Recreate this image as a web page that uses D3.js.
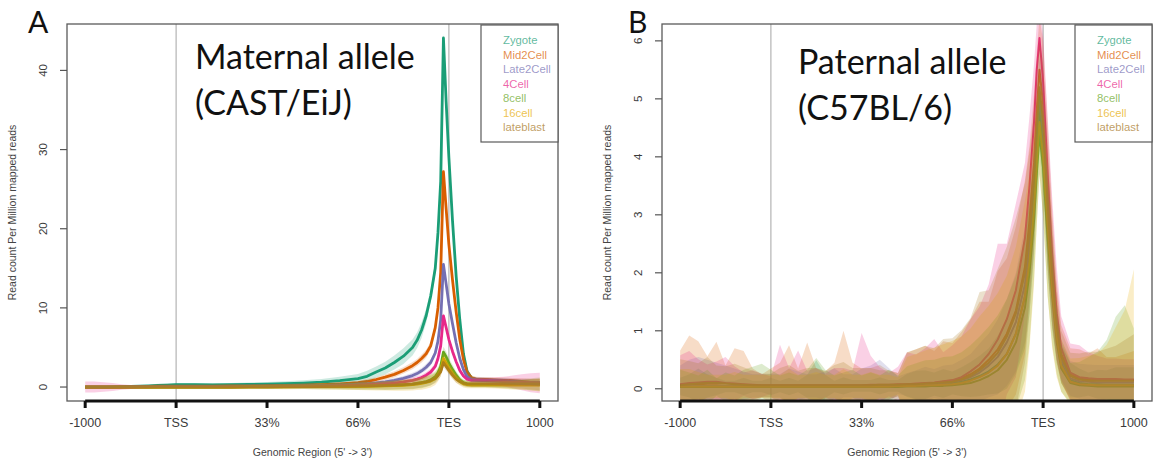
<!DOCTYPE html>
<html>
<head>
<meta charset="utf-8">
<script src="https://cdn.jsdelivr.net/npm/d3@7"></script>
<style>
  html, body { margin: 0; padding: 0; background: #fff; }
  svg { display: block; }
</style>
</head>
<body>
<svg id="chart" width="1154" height="462"></svg>
<script>
// ---- shared labels ----
const stages = ["Zygote", "Mid2Cell", "Late2Cell", "4Cell", "8cell", "16cell", "lateblast"];
const stageColors = ["#1b9e77", "#d95f02", "#7570b3", "#e7298a", "#66a61e", "#e6ab02", "#a6761d"];
const regionTickPos = [0, 1, 2, 3, 4, 5];
const regionTickLabels = ["-1000", "TSS", "33%", "66%", "TES", "1000"];
const yTicksA = [0, 10, 20, 30, 40];
const yTicksB = [0, 1, 2, 3, 4, 5, 6];

// ---- panel A: maternal allele (region units: 0=-1000, 1=TSS, 4=TES, 5=+1000) ----
const posA = [0, 0.1, 0.2, 0.3, 0.4, 0.5, 0.6, 0.7, 0.8, 0.9, 1.0,
  1.2, 1.4, 1.6, 1.8, 2.0, 2.2, 2.4, 2.6, 2.8, 3.0,
  3.1, 3.2, 3.3, 3.4, 3.5, 3.6,
  3.65, 3.7, 3.75, 3.8, 3.85,
  3.88, 3.91, 3.94, 3.97, 4.0,
  4.04, 4.08, 4.12, 4.16, 4.2,
  4.25, 4.3,
  4.4, 4.5, 4.6, 4.7, 4.8, 4.9, 5.0];

const aZygote = [0, 0, 0, 0.02, 0.05, 0.08, 0.12, 0.15, 0.2, 0.25, 0.3,
  0.3, 0.28, 0.3, 0.32, 0.35, 0.42, 0.5, 0.62, 0.8, 1.05,
  1.35, 1.9, 2.4, 3.1, 3.9, 5.0,
  5.9, 7.2, 9.0, 11.5, 15.0,
  19.5, 26, 44.1, 36, 29,
  21, 14, 8.5, 4.2, 2.0,
  1.1, 0.95,
  0.9, 0.85, 0.8, 0.7, 0.6, 0.55, 0.5];
const aZygoteSE = [0.15, 0.15, 0.15, 0.15, 0.15, 0.15, 0.15, 0.15, 0.2, 0.2, 0.2,
  0.2, 0.2, 0.2, 0.25, 0.3, 0.3, 0.35, 0.4, 0.5, 0.6,
  0.7, 0.7, 0.8, 0.9, 1.0, 1.0,
  1.0, 1.0, 0.9, 0.8, 0.8,
  0.7, 0.7, 0.6, 0.6, 0.5,
  0.5, 0.4, 0.4, 0.3, 0.3,
  0.3, 0.3,
  0.3, 0.3, 0.3, 0.3, 0.3, 0.3, 0.3];

const aMid2Cell = [0, 0, 0, 0, 0.02, 0.04, 0.06, 0.08, 0.1, 0.1, 0.12,
  0.12, 0.12, 0.13, 0.15, 0.18, 0.2, 0.25, 0.3, 0.4, 0.55,
  0.7, 0.95, 1.25, 1.6, 2.1, 2.7,
  3.1, 3.6, 4.2, 5.2, 7.5,
  10, 14.5, 27.2, 22.5, 18,
  13.5, 9.5, 6, 3.5, 1.9,
  1.15, 1.0,
  0.95, 0.9, 0.85, 0.8, 0.7, 0.6, 0.55];
const aMid2CellSE = [0.1, 0.1, 0.1, 0.1, 0.1, 0.1, 0.1, 0.1, 0.1, 0.1, 0.1,
  0.1, 0.1, 0.1, 0.12, 0.12, 0.15, 0.15, 0.2, 0.2, 0.25,
  0.3, 0.3, 0.35, 0.4, 0.4, 0.45,
  0.45, 0.5, 0.5, 0.5, 0.5,
  0.5, 0.5, 0.5, 0.5, 0.5,
  0.4, 0.4, 0.3, 0.3, 0.3,
  0.3, 0.3,
  0.3, 0.3, 0.35, 0.35, 0.4, 0.4, 0.45];

const aLate2Cell = [0, 0, 0, 0, 0, 0.02, 0.04, 0.05, 0.06, 0.07, 0.08,
  0.08, 0.08, 0.09, 0.1, 0.12, 0.14, 0.16, 0.2, 0.26, 0.35,
  0.42, 0.52, 0.65, 0.85, 1.1, 1.45,
  1.7, 2.05, 2.5, 3.1, 4.3,
  5.8, 8.5, 15.5, 13, 10.5,
  8, 5.6, 3.6, 2.2, 1.3,
  0.95, 0.9,
  0.85, 0.8, 0.75, 0.7, 0.65, 0.6, 0.55];
const aLate2CellSE = [0.1, 0.1, 0.1, 0.1, 0.1, 0.1, 0.1, 0.1, 0.1, 0.1, 0.1,
  0.1, 0.1, 0.1, 0.1, 0.1, 0.12, 0.12, 0.15, 0.15, 0.2,
  0.2, 0.25, 0.25, 0.3, 0.3, 0.35,
  0.35, 0.35, 0.4, 0.4, 0.4,
  0.4, 0.4, 0.4, 0.4, 0.4,
  0.35, 0.3, 0.3, 0.3, 0.3,
  0.3, 0.3,
  0.3, 0.3, 0.35, 0.35, 0.4, 0.4, 0.45];

const a4Cell = [0, 0, 0, 0, 0, 0, 0.02, 0.03, 0.04, 0.05, 0.05,
  0.05, 0.05, 0.06, 0.07, 0.08, 0.09, 0.1, 0.12, 0.16, 0.22,
  0.26, 0.32, 0.4, 0.5, 0.65, 0.85,
  1.0, 1.2, 1.5, 1.9, 2.6,
  3.6, 5.2, 9.0, 7.5, 6.0,
  4.5, 3.2, 2.1, 1.4, 1.0,
  0.85, 0.85,
  0.8, 0.75, 0.7, 0.65, 0.6, 0.55, 0.5];
const a4CellSE = [0.7, 0.7, 0.6, 0.5, 0.35, 0.25, 0.2, 0.15, 0.15, 0.15, 0.15,
  0.15, 0.15, 0.15, 0.15, 0.15, 0.15, 0.15, 0.2, 0.2, 0.2,
  0.25, 0.25, 0.3, 0.3, 0.3, 0.35,
  0.35, 0.35, 0.4, 0.4, 0.4,
  0.4, 0.4, 0.4, 0.4, 0.4,
  0.35, 0.3, 0.3, 0.3, 0.3,
  0.3, 0.35,
  0.4, 0.5, 0.6, 0.8, 1.0, 1.2, 1.3];

const a8cell = [0, 0, 0, 0, 0, 0, 0, 0, 0, 0, 0,
  0, 0, 0, 0.02, 0.03, 0.04, 0.05, 0.06, 0.08, 0.1,
  0.12, 0.15, 0.18, 0.22, 0.28, 0.36,
  0.45, 0.55, 0.7, 0.9, 1.3,
  1.8, 2.6, 4.4, 3.8, 3.0,
  2.2, 1.5, 0.9, 0.55, 0.4,
  0.35, 0.35,
  0.35, 0.35, 0.35, 0.3, 0.3, 0.3, 0.3];
const a8cellSE = [0.2, 0.2, 0.2, 0.2, 0.2, 0.2, 0.2, 0.2, 0.2, 0.2, 0.2,
  0.2, 0.2, 0.2, 0.25, 0.25, 0.3, 0.3, 0.35, 0.4, 0.45,
  0.5, 0.5, 0.55, 0.6, 0.6, 0.65,
  0.65, 0.7, 0.7, 0.7, 0.7,
  0.7, 0.7, 0.7, 0.7, 0.65,
  0.6, 0.5, 0.45, 0.4, 0.4,
  0.4, 0.4,
  0.4, 0.45, 0.5, 0.55, 0.6, 0.7, 0.8];

const a16cell = [0, 0, 0, 0, 0, 0, 0, 0, 0, 0, 0,
  0, 0, 0, 0.01, 0.02, 0.03, 0.04, 0.05, 0.06, 0.08,
  0.1, 0.12, 0.15, 0.18, 0.22, 0.3,
  0.38, 0.46, 0.58, 0.75, 1.05,
  1.5, 2.1, 3.6, 3.0, 2.4,
  1.7, 1.1, 0.7, 0.4, 0.3,
  0.25, 0.25,
  0.25, 0.25, 0.25, 0.25, 0.25, 0.25, 0.25];
const a16cellSE = [0.2, 0.2, 0.2, 0.2, 0.2, 0.2, 0.2, 0.2, 0.2, 0.2, 0.2,
  0.2, 0.2, 0.2, 0.25, 0.25, 0.3, 0.3, 0.35, 0.4, 0.45,
  0.5, 0.55, 0.6, 0.65, 0.7, 0.75,
  0.75, 0.8, 0.8, 0.8, 0.8,
  0.8, 0.75, 0.7, 0.7, 0.65,
  0.6, 0.55, 0.5, 0.45, 0.45,
  0.4, 0.4,
  0.4, 0.45, 0.5, 0.55, 0.6, 0.7, 0.8];

const aLateblast = [0, 0, 0, 0, 0, 0, 0, 0, 0, 0, 0,
  0, 0, 0, 0.02, 0.03, 0.04, 0.05, 0.07, 0.09, 0.12,
  0.14, 0.17, 0.2, 0.24, 0.3, 0.38,
  0.45, 0.55, 0.66, 0.82, 1.1,
  1.45, 1.95, 3.1, 2.6, 2.1,
  1.5, 1.0, 0.7, 0.5, 0.4,
  0.4, 0.4,
  0.4, 0.4, 0.4, 0.4, 0.4, 0.4, 0.4];
const aLateblastSE = [0.2, 0.2, 0.2, 0.2, 0.2, 0.2, 0.2, 0.2, 0.2, 0.2, 0.2,
  0.2, 0.2, 0.2, 0.2, 0.25, 0.25, 0.3, 0.3, 0.35, 0.4,
  0.4, 0.45, 0.5, 0.5, 0.55, 0.6,
  0.6, 0.6, 0.6, 0.6, 0.6,
  0.6, 0.6, 0.6, 0.55, 0.5,
  0.5, 0.45, 0.4, 0.4, 0.4,
  0.4, 0.4,
  0.4, 0.45, 0.5, 0.55, 0.6, 0.7, 0.8];

// ---- panel B: paternal allele ----
const posB = [0, 0.1, 0.2, 0.3, 0.4, 0.5, 0.6, 0.7, 0.8, 0.9, 1.0,
  1.1, 1.2, 1.3, 1.4, 1.5, 1.6, 1.7, 1.8, 1.9, 2.0, 2.1, 2.2, 2.3, 2.4, 2.5, 2.6, 2.7, 2.8, 2.9,
  3.0, 3.1, 3.2, 3.3, 3.4, 3.5, 3.6, 3.7, 3.8,
  3.85, 3.9, 3.93, 3.96, 4.0, 4.05, 4.1, 4.15, 4.2,
  4.3, 4.4, 4.5, 4.6, 4.7, 4.8, 4.9, 5.0];

const bZygote = [0.04, 0.05, 0.05, 0.05, 0.04, 0.04, 0.04, 0.04, 0.04, 0.04, 0.04,
  0.04, 0.04, 0.04, 0.04, 0.04, 0.04, 0.04, 0.05, 0.05, 0.05, 0.05, 0.05, 0.05, 0.05, 0.06, 0.06, 0.07, 0.08, 0.09,
  0.1, 0.12, 0.16, 0.22, 0.3, 0.42, 0.6, 0.95, 1.6,
  2.3, 3.2, 4.0, 4.8, 4.2, 2.9, 1.8, 0.95, 0.45,
  0.15, 0.1, 0.08, 0.08, 0.07, 0.07, 0.07, 0.07];
const bZygoteSE = [0.15, 0.2, 0.3, 0.2, 0.15, 0.1, 0.1, 0.15, 0.1, 0.1, 0.15,
  0.1, 0.15, 0.1, 0.2, 0.45, 0.2, 0.1, 0.15, 0.1, 0.1, 0.1, 0.15, 0.1, 0.1, 0.2, 0.25, 0.25, 0.2, 0.25,
  0.2, 0.25, 0.3, 0.35, 0.4, 0.5, 0.6, 0.7, 0.9,
  1.0, 0.9, 0.8, 0.7, 0.8, 0.9, 0.8, 0.5, 0.35,
  0.3, 0.25, 0.2, 0.25, 0.25, 0.3, 0.3, 0.3];

const bMid2Cell = [0.06, 0.07, 0.07, 0.06, 0.06, 0.05, 0.05, 0.05, 0.05, 0.05, 0.05,
  0.05, 0.05, 0.05, 0.05, 0.05, 0.05, 0.05, 0.05, 0.05, 0.05, 0.06, 0.06, 0.06, 0.07, 0.07, 0.08, 0.09, 0.1, 0.12,
  0.14, 0.18, 0.25, 0.35, 0.5, 0.68, 0.95, 1.35, 2.1,
  2.9, 3.9, 4.8, 5.5, 4.9, 3.4, 2.1, 1.15, 0.6,
  0.25, 0.18, 0.16, 0.15, 0.15, 0.15, 0.15, 0.15];
const bMid2CellSE = [0.6, 0.85, 0.75, 0.5, 0.75, 0.35, 0.65, 0.6, 0.3, 0.2, 0.3,
  0.4, 0.7, 0.3, 0.75, 0.3, 0.25, 0.4, 0.95, 0.4, 0.3, 0.3, 0.35, 0.25, 0.2, 0.55, 0.6, 0.65, 0.55, 0.7,
  0.65, 0.8, 0.95, 1.15, 1.0, 1.35, 1.3, 1.45, 1.5,
  1.3, 1.2, 1.0, 0.9, 1.1, 1.2, 1.0, 0.7, 0.5,
  0.45, 0.5, 0.45, 0.55, 0.4, 0.4, 0.45, 0.5];

const bLate2Cell = [0.05, 0.05, 0.05, 0.05, 0.05, 0.05, 0.05, 0.05, 0.05, 0.05, 0.05,
  0.05, 0.05, 0.05, 0.05, 0.05, 0.05, 0.05, 0.05, 0.05, 0.05, 0.05, 0.05, 0.06, 0.06, 0.07, 0.07, 0.08, 0.09, 0.1,
  0.12, 0.15, 0.2, 0.28, 0.4, 0.55, 0.8, 1.15, 1.8,
  2.5, 3.4, 4.3, 5.0, 4.4, 3.0, 1.9, 1.0, 0.5,
  0.18, 0.13, 0.12, 0.11, 0.11, 0.11, 0.11, 0.11];
const bLate2CellSE = [0.35, 0.45, 0.5, 0.45, 0.4, 0.35, 0.3, 0.25, 0.2, 0.2, 0.2,
  0.2, 0.3, 0.25, 0.2, 0.2, 0.25, 0.3, 0.2, 0.2, 0.3, 0.35, 0.45, 0.3, 0.15, 0.2, 0.25, 0.3, 0.25, 0.3,
  0.3, 0.35, 0.4, 0.5, 0.55, 0.65, 0.75, 0.85, 1.0,
  1.0, 0.9, 0.8, 0.7, 0.8, 0.9, 0.8, 0.5, 0.35,
  0.3, 0.3, 0.3, 0.3, 0.3, 0.3, 0.3, 0.3];

const b4Cell = [0.08, 0.1, 0.11, 0.12, 0.12, 0.1, 0.09, 0.08, 0.07, 0.06, 0.06,
  0.06, 0.06, 0.06, 0.06, 0.06, 0.06, 0.06, 0.06, 0.06, 0.06, 0.07, 0.07, 0.07, 0.08, 0.08, 0.09, 0.1, 0.11, 0.13,
  0.15, 0.2, 0.3, 0.42, 0.6, 0.85, 1.2, 1.7, 2.6,
  3.5, 4.6, 5.5, 6.05, 5.3, 3.7, 2.3, 1.3, 0.7,
  0.28, 0.2, 0.18, 0.17, 0.17, 0.17, 0.16, 0.16];
const b4CellSE = [0.5, 0.55, 0.4, 0.3, 0.35, 0.45, 0.3, 0.2, 0.25, 0.2, 0.15,
  0.7, 0.3, 0.6, 0.25, 0.3, 0.2, 0.3, 0.3, 0.25, 0.9, 0.5, 0.3, 0.2, 0.3, 0.55, 0.5, 0.6, 0.75, 0.5,
  0.6, 0.7, 0.9, 1.0, 1.2, 1.65, 1.3, 1.5, 1.3,
  1.2, 1.0, 0.8, 0.6, 0.8, 1.0, 1.0, 0.8, 0.55,
  0.5, 0.55, 0.45, 0.4, 0.35, 0.35, 0.35, 0.35];

const b8cell = [0.03, 0.03, 0.03, 0.03, 0.03, 0.03, 0.03, 0.03, 0.03, 0.03, 0.03,
  0.03, 0.03, 0.03, 0.03, 0.03, 0.03, 0.03, 0.03, 0.03, 0.03, 0.03, 0.03, 0.03, 0.03, 0.04, 0.04, 0.04, 0.05, 0.05,
  0.06, 0.08, 0.1, 0.15, 0.22, 0.32, 0.5, 0.8, 1.4,
  2.0, 2.9, 3.7, 4.4, 3.8, 2.6, 1.6, 0.8, 0.35,
  0.1, 0.06, 0.05, 0.04, 0.04, 0.04, 0.04, 0.04];
const b8cellSE = [0.3, 0.25, 0.2, 0.3, 0.15, 0.25, 0.2, 0.3, 0.35, 0.4, 0.3,
  0.2, 0.25, 0.2, 0.3, 0.5, 0.3, 0.2, 0.25, 0.3, 0.2, 0.25, 0.2, 0.3, 0.2, 0.35, 0.4, 0.45, 0.45, 0.5,
  0.5, 0.55, 0.65, 0.75, 0.85, 0.95, 1.05, 1.15, 1.25,
  1.2, 1.0, 0.85, 0.7, 0.85, 1.0, 0.85, 0.55, 0.4,
  0.35, 0.4, 0.5, 0.6, 0.8, 1.2, 1.4, 1.0];

const b16cell = [0.04, 0.04, 0.04, 0.04, 0.04, 0.04, 0.04, 0.04, 0.04, 0.04, 0.04,
  0.04, 0.04, 0.04, 0.04, 0.04, 0.04, 0.04, 0.04, 0.04, 0.04, 0.04, 0.04, 0.04, 0.05, 0.05, 0.05, 0.06, 0.06, 0.07,
  0.08, 0.1, 0.14, 0.2, 0.28, 0.4, 0.6, 0.95, 1.6,
  2.2, 3.1, 3.9, 4.6, 4.0, 2.8, 1.7, 0.9, 0.4,
  0.12, 0.08, 0.07, 0.06, 0.06, 0.06, 0.06, 0.06];
const b16cellSE = [0.3, 0.3, 0.25, 0.2, 0.2, 0.2, 0.25, 0.2, 0.2, 0.2, 0.2,
  0.2, 0.3, 0.2, 0.2, 0.25, 0.2, 0.2, 0.3, 0.2, 0.2, 0.25, 0.2, 0.2, 0.15, 0.5, 0.55, 0.6, 0.65, 0.7,
  0.75, 0.8, 0.9, 1.05, 1.15, 1.25, 1.35, 1.5, 1.65,
  1.5, 1.3, 1.1, 0.9, 1.0, 1.2, 1.0, 0.7, 0.45,
  0.4, 0.45, 0.5, 0.55, 0.7, 1.0, 1.3, 2.0];

const bLateblast = [0.06, 0.08, 0.09, 0.1, 0.1, 0.09, 0.08, 0.07, 0.06, 0.06, 0.06,
  0.06, 0.06, 0.06, 0.06, 0.06, 0.06, 0.06, 0.06, 0.06, 0.06, 0.06, 0.07, 0.07, 0.07, 0.08, 0.08, 0.09, 0.1, 0.11,
  0.12, 0.16, 0.22, 0.32, 0.45, 0.62, 0.9, 1.3, 2.0,
  2.7, 3.6, 4.5, 5.2, 4.6, 3.2, 2.0, 1.1, 0.55,
  0.22, 0.16, 0.14, 0.14, 0.14, 0.14, 0.14, 0.14];
const bLateblastSE = [0.45, 0.4, 0.35, 0.45, 0.3, 0.3, 0.35, 0.3, 0.25, 0.2, 0.2,
  0.3, 0.35, 0.25, 0.3, 0.3, 0.25, 0.35, 0.4, 0.3, 0.3, 0.3, 0.25, 0.25, 0.2, 0.55, 0.6, 0.65, 0.6, 0.75,
  0.75, 0.85, 1.0, 1.35, 1.25, 1.45, 1.55, 1.65, 1.55,
  1.4, 1.2, 1.0, 0.8, 1.0, 1.1, 0.9, 0.6, 0.45,
  0.4, 0.45, 0.5, 0.5, 0.55, 0.6, 0.7, 0.8];

// ---- assemble series per panel ----
function buildSeries(pos, means, ses) {
  return stages.map((name, i) => ({
    name, color: stageColors[i],
    pts: pos.map((p, k) => ({ x: p, m: means[i][k], se: ses[i][k] }))
  }));
}
const seriesA = buildSeries(posA,
  [aZygote, aMid2Cell, aLate2Cell, a4Cell, a8cell, a16cell, aLateblast],
  [aZygoteSE, aMid2CellSE, aLate2CellSE, a4CellSE, a8cellSE, a16cellSE, aLateblastSE]);
const seriesB = buildSeries(posB,
  [bZygote, bMid2Cell, bLate2Cell, b4Cell, b8cell, b16cell, bLateblast],
  [bZygoteSE, bMid2CellSE, bLate2CellSE, b4CellSE, b8cellSE, b16cellSE, bLateblastSE]);

const svg = d3.select("#chart");
const rFont = "'Liberation Sans', Arial, Helvetica, sans-serif";
const slideFont = "Lato, 'Open Sans', sans-serif";

function drawPanel(cfg) {
  const { id, box, series, yTicks, lineWidth, tag } = cfg;
  const g = svg.append("g");

  // R-style 4% padding on both axes; y limits follow the mean profiles
  const x = d3.scaleLinear().domain([-0.2, 5.2]).range([box.left, box.right]);
  const allMeans = series.flatMap(s => s.pts.map(p => p.m));
  const lo = d3.min(allMeans), hi = d3.max(allMeans);
  const pad = (hi - lo) * 0.04;
  const y = d3.scaleLinear().domain([lo - pad, hi + pad]).range([box.bottom, box.top]);

  svg.append("defs").append("clipPath").attr("id", "clip" + id)
    .append("rect")
    .attr("x", box.left).attr("y", box.top)
    .attr("width", box.right - box.left).attr("height", box.bottom - box.top);

  const plot = g.append("g").attr("clip-path", `url(#clip${id})`);

  // TSS / TES guides
  plot.selectAll("line.guide").data([1, 4]).join("line")
    .attr("class", "guide")
    .attr("x1", d => x(d)).attr("x2", d => x(d))
    .attr("y1", box.top).attr("y2", box.bottom)
    .attr("stroke", "#b4b4b4").attr("stroke-width", 1.2);

  const line = d3.line().x(d => x(d.x)).y(d => y(d.m));
  const area = d3.area().x(d => x(d.x)).y0(d => y(d.m - d.se)).y1(d => y(d.m + d.se));

  // mean profiles, then the standard-error ribbons on top
  plot.selectAll("path.mean").data(series).join("path")
    .attr("class", "mean")
    .attr("d", s => line(s.pts))
    .attr("fill", "none").attr("stroke", s => s.color)
    .attr("stroke-width", lineWidth).attr("stroke-linejoin", "round");
  plot.selectAll("path.ribbon").data(series).join("path")
    .attr("class", "ribbon")
    .attr("d", s => area(s.pts))
    .attr("fill", s => s.color).attr("fill-opacity", cfg.ribbonOpacity).attr("stroke", "none");

  // plot frame
  g.append("rect")
    .attr("x", box.left).attr("y", box.top)
    .attr("width", box.right - box.left).attr("height", box.bottom - box.top)
    .attr("fill", "none").attr("stroke", "#5a5a5a").attr("stroke-width", 1.3);

  // x axis: heavy baseline with region ticks
  const xa = g.append("g");
  xa.append("line")
    .attr("x1", x(regionTickPos[0])).attr("x2", x(regionTickPos[regionTickPos.length - 1]))
    .attr("y1", box.bottom).attr("y2", box.bottom)
    .attr("stroke", "#111").attr("stroke-width", 3);
  xa.selectAll("line.tick").data(regionTickPos).join("line")
    .attr("class", "tick")
    .attr("x1", d => x(d)).attr("x2", d => x(d))
    .attr("y1", box.bottom).attr("y2", box.bottom + 7)
    .attr("stroke", "#111").attr("stroke-width", 3);
  xa.selectAll("text").data(regionTickPos).join("text")
    .attr("x", d => x(d)).attr("y", box.bottom + 26)
    .attr("text-anchor", "middle")
    .attr("font-family", rFont).attr("font-size", 12.5).attr("fill", "#3a3a3a")
    .text((d, i) => regionTickLabels[i]);
  g.append("text")
    .attr("x", (x(0) + x(5)) / 2).attr("y", 456)
    .attr("text-anchor", "middle")
    .attr("font-family", rFont).attr("font-size", 10.5).attr("fill", "#444")
    .text("Genomic Region (5' -> 3')");

  // y axis
  const ya = g.append("g");
  ya.selectAll("line").data(yTicks).join("line")
    .attr("x1", box.left - 7).attr("x2", box.left)
    .attr("y1", d => y(d)).attr("y2", d => y(d))
    .attr("stroke", "#555").attr("stroke-width", 1.2);
  ya.selectAll("text").data(yTicks).join("text")
    .attr("transform", d => `translate(${box.left - 20},${y(d)}) rotate(-90)`)
    .attr("text-anchor", "middle")
    .attr("font-family", rFont).attr("font-size", 11.5).attr("fill", "#3a3a3a")
    .text(d => d);
  g.append("text")
    .attr("transform", `translate(${box.left - 51},${(box.top + box.bottom) / 2}) rotate(-90)`)
    .attr("text-anchor", "middle")
    .attr("font-family", rFont).attr("font-size", 10.5).attr("fill", "#444")
    .text("Read count Per Million mapped reads");

  // legend in the top-right corner
  const lg = g.append("g");
  const legLeft = box.right - 77, legTop = box.top + 1;
  lg.append("rect")
    .attr("x", legLeft).attr("y", legTop)
    .attr("width", box.right - legLeft).attr("height", 117)
    .attr("fill", "#fff").attr("stroke", "#5a5a5a").attr("stroke-width", 1.2);
  lg.selectAll("text").data(series).join("text")
    .attr("x", legLeft + 22).attr("y", (d, i) => legTop + 19 + i * 14.5)
    .attr("font-family", rFont).attr("font-size", 11.3)
    .attr("fill", d => d.color).attr("fill-opacity", 0.72)
    .text(d => d.name);

  // panel tag and allele annotation
  g.append("text").attr("x", cfg.tagX).attr("y", 33)
    .attr("font-family", slideFont).attr("font-size", 30).attr("fill", "#111")
    .text(tag);
  cfg.titles.forEach((t, i) => {
    g.append("text").attr("x", cfg.titleX).attr("y", cfg.titleY + i * 46)
      .attr("font-family", slideFont).attr("font-size", cfg.titleSize).attr("fill", "#111")
      .text(t);
  });
}

drawPanel({
  id: "A", box: { left: 67, right: 558, top: 24, bottom: 401 },
  series: seriesA, yTicks: yTicksA, lineWidth: 2.8, ribbonOpacity: 0.22,
  tag: "A", tagX: 28, titles: ["Maternal allele", "(CAST/EiJ)"],
  titleX: 195, titleY: 69, titleSize: 34
});
drawPanel({
  id: "B", box: { left: 662, right: 1152, top: 24, bottom: 401 },
  series: seriesB, yTicks: yTicksB, lineWidth: 2, ribbonOpacity: 0.22,
  tag: "B", tagX: 628, titles: ["Paternal allele", "(C57BL/6)"],
  titleX: 798, titleY: 74, titleSize: 34
});
</script>
</body>
</html>
